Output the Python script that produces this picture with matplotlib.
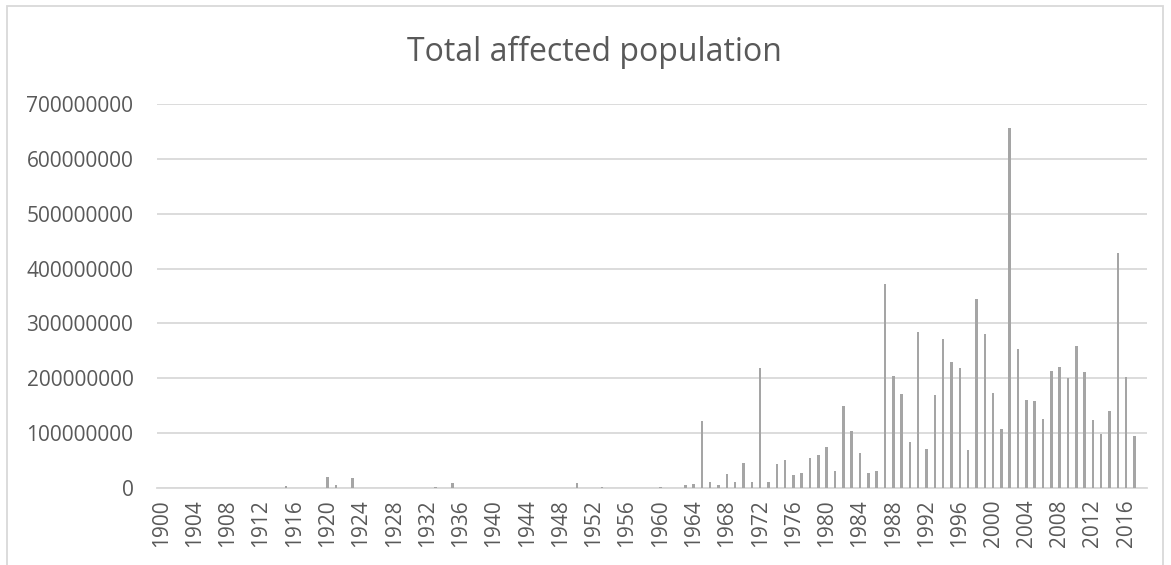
import matplotlib.pyplot as plt
from matplotlib.patches import Rectangle
import numpy as np

# years shown on the category axis
years = list(range(1900, 2019))

# total affected population per year, zero where no bar
affected = {
    1915: 3e6, 1920: 20e6, 1921: 5e6, 1923: 18e6, 1933: 2.5e6, 1935: 9.5e6,
    1950: 10e6, 1953: 2.4e6, 1960: 2.4e6, 1963: 5e6, 1964: 6.7e6,
    1965: 122e6, 1966: 11.6e6, 1967: 6e6, 1968: 25.7e6, 1969: 11e6,
    1970: 46e6, 1971: 11e6, 1972: 219e6, 1973: 11e6, 1974: 44e6,
    1975: 51e6, 1976: 24e6, 1977: 27.5e6, 1978: 54e6, 1979: 60.5e6,
    1980: 74e6, 1981: 31.5e6, 1982: 150e6, 1983: 104e6, 1984: 63e6,
    1985: 27e6, 1986: 31e6, 1987: 372e6, 1988: 205e6, 1989: 171.5e6,
    1990: 83e6, 1991: 284e6, 1992: 71e6, 1993: 170e6, 1994: 272e6,
    1995: 229e6, 1996: 218e6, 1997: 69e6, 1998: 345e6, 1999: 280e6,
    2000: 173e6, 2001: 107e6, 2002: 656e6, 2003: 254e6, 2004: 161e6,
    2005: 159e6, 2006: 125e6, 2007: 213e6, 2008: 221e6, 2009: 200e6,
    2010: 258e6, 2011: 211e6, 2012: 124e6, 2013: 98e6, 2014: 140e6,
    2015: 428e6, 2016: 203e6, 2017: 95e6,
}
values = [affected.get(y, 0) for y in years]

y_ticks = list(range(0, 700000001, 100000000))

TEXT = '#595959'
plt.rcParams['font.family'] = ['Open Sans', 'DejaVu Sans']

fig = plt.figure(figsize=(11.71, 5.65), dpi=100)
ax = fig.add_axes([157 / 1171, 1 - 488 / 565, 990 / 1171, 384 / 565])

x = np.arange(len(years))
ax.bar(x, values, width=0.3, color='#A5A5A5', zorder=3)

ax.set_xlim(-0.5, len(years) - 0.5)
ax.set_ylim(0, 700000000)
ax.set_yticks(y_ticks)
ax.set_yticklabels([str(v) for v in y_ticks])
ax.set_xticks(x[::4])
ax.set_xticklabels([str(y) for y in years[::4]], rotation=90)

ax.grid(axis='y', color='#D9D9D9', linewidth=1.3, zorder=0)
for s in ['top', 'right', 'left']:
    ax.spines[s].set_visible(False)
ax.spines['bottom'].set_color('#D9D9D9')
ax.spines['bottom'].set_linewidth(1.3)
ax.tick_params(axis='y', length=0, pad=17, labelsize=15, labelcolor=TEXT)
ax.tick_params(axis='x', length=0, pad=8, labelsize=15, labelcolor=TEXT)

fig.text(594 / 1171, 1 - 52 / 565, 'Total affected population', ha='center', va='center',
         fontsize=23, color=TEXT)

# light chart-area border
fig.patches.append(Rectangle((7 / 1171, -0.1), 1156 / 1171, 1.1 - 6 / 565,
                             transform=fig.transFigure, fill=False,
                             edgecolor='#D9D9D9', linewidth=1.3))

fig.savefig('out.png', dpi=100, facecolor='white')
